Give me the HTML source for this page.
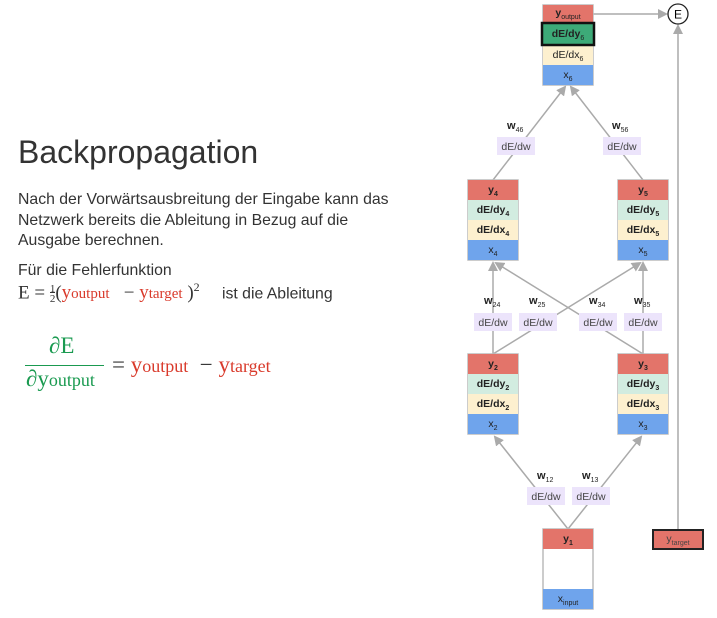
<!DOCTYPE html>
<html><head><meta charset="utf-8"><style>
body{margin:0;width:717px;height:618px;background:#fff;overflow:hidden;position:relative;font-family:"Liberation Sans",sans-serif;color:#222}
.t{position:absolute;white-space:nowrap}
.r{color:#d93a2b}.g{color:#1a9a50}
.ser{font-family:"Liberation Serif",serif}
</style></head><body>
<div class="t" style="left:18px;top:134px;font-size:32px;color:#333">Backpropagation</div>
<div class="t" style="left:18px;top:190px;font-size:15.8px;line-height:20.5px;color:#333">Nach der Vorwärtsausbreitung der Eingabe kann das<br>Netzwerk bereits die Ableitung in Bezug auf die<br>Ausgabe berechnen.</div>
<div class="t" style="left:18px;top:262px;font-size:15.8px;color:#333">Für die Fehlerfunktion</div>
<div class="t ser" style="left:18px;top:280px;font-size:19px;color:#333">E = <span style="display:inline-block;font-size:11px;vertical-align:middle;text-align:center;line-height:10px">1<br><span style="border-top:1px solid #333">2</span></span>(<span class="r">y<span style="font-size:15px">output</span></span> &nbsp;&nbsp;− <span class="r">y<span style="font-size:15px">target</span></span> )<sup style="font-size:12px">2</sup> <span style="font-family:'Liberation Sans',sans-serif;font-size:15.8px">&nbsp;&nbsp;&nbsp;&nbsp;ist die Ableitung</span></div>
<div class="t ser g" style="left:49px;top:333px;font-size:23px">∂E</div>
<div style="position:absolute;left:25px;top:365px;width:79px;border-top:1px solid #1a9a50"></div>
<div class="t ser g" style="left:26px;top:366px;font-size:23px">∂y<span style="font-size:18px">output</span></div>
<div class="t ser" style="left:112px;top:352px;font-size:23px;color:#333">= <span class="r">y<span style="font-size:18px">output</span></span> &nbsp;− <span class="r">y<span style="font-size:18px">target</span></span></div>

<svg width="717" height="618" style="position:absolute;left:0;top:0" font-family="Liberation Sans, sans-serif">
<defs><marker id="a" markerWidth="10" markerHeight="10" refX="8" refY="5" orient="auto" markerUnits="userSpaceOnUse"><path d="M0,0 L10,5 L0,10 z" fill="#aaa"/></marker></defs>
<g stroke="#aaa" stroke-width="1.5" fill="none">
<line x1="593" y1="14" x2="666" y2="14" marker-end="url(#a)"/>
<line x1="678" y1="529" x2="678" y2="26" marker-end="url(#a)"/>
<line x1="493" y1="180" x2="565" y2="87" marker-end="url(#a)"/>
<line x1="643" y1="180" x2="571" y2="87" marker-end="url(#a)"/>
<line x1="493" y1="354" x2="493" y2="263" marker-end="url(#a)"/>
<line x1="493" y1="354" x2="640" y2="263" marker-end="url(#a)"/>
<line x1="643" y1="354" x2="496" y2="263" marker-end="url(#a)"/>
<line x1="643" y1="354" x2="643" y2="263" marker-end="url(#a)"/>
<line x1="568" y1="529" x2="495" y2="437" marker-end="url(#a)"/>
<line x1="568" y1="529" x2="641" y2="437" marker-end="url(#a)"/>
</g>
<circle cx="678" cy="14" r="10" fill="#fff" stroke="#222" stroke-width="1.3"/>
<text x="678" y="18.5" font-size="12" text-anchor="middle">E</text>
<g font-size="10.5" text-anchor="middle" fill="#444">
<rect x="497" y="137" width="38" height="18" fill="#ece4fb"/><text x="516" y="150">dE/dw</text>
<rect x="603" y="137" width="38" height="18" fill="#ece4fb"/><text x="622" y="150">dE/dw</text>
<rect x="474" y="313" width="38" height="18" fill="#ece4fb"/><text x="493" y="326">dE/dw</text>
<rect x="519" y="313" width="38" height="18" fill="#ece4fb"/><text x="538" y="326">dE/dw</text>
<rect x="579" y="313" width="38" height="18" fill="#ece4fb"/><text x="598" y="326">dE/dw</text>
<rect x="624" y="313" width="38" height="18" fill="#ece4fb"/><text x="643" y="326">dE/dw</text>
<rect x="527" y="487" width="38" height="18" fill="#ece4fb"/><text x="546" y="500">dE/dw</text>
<rect x="572" y="487" width="38" height="18" fill="#ece4fb"/><text x="591" y="500">dE/dw</text>
</g>
<g font-size="11" font-weight="bold" fill="#222">
<text x="507" y="129">w<tspan font-size="7" dy="3" font-weight="normal">46</tspan></text>
<text x="612" y="129">w<tspan font-size="7" dy="3" font-weight="normal">56</tspan></text>
<text x="484" y="304">w<tspan font-size="7" dy="3" font-weight="normal">24</tspan></text>
<text x="529" y="304">w<tspan font-size="7" dy="3" font-weight="normal">25</tspan></text>
<text x="589" y="304">w<tspan font-size="7" dy="3" font-weight="normal">34</tspan></text>
<text x="634" y="304">w<tspan font-size="7" dy="3" font-weight="normal">35</tspan></text>
<text x="537" y="479">w<tspan font-size="7" dy="3" font-weight="normal">12</tspan></text>
<text x="582" y="479">w<tspan font-size="7" dy="3" font-weight="normal">13</tspan></text>
</g>
<g font-size="10.5" text-anchor="middle" fill="#222">
<rect x="543" y="5" width="50" height="80" fill="#fff" stroke="#bbb" stroke-width="1.5"/>
<rect x="543" y="5" width="50" height="18" fill="#e3746a"/><text x="568" y="16" font-weight="bold">y<tspan font-size="7" dy="3" font-weight="normal">output</tspan></text>
<rect x="543" y="45" width="50" height="20" fill="#fdf0cf"/><text x="568" y="58">dE/dx<tspan font-size="7" dy="3">6</tspan></text>
<rect x="543" y="65" width="50" height="20" fill="#6fa4ec"/><text x="568" y="78">x<tspan font-size="7" dy="3">6</tspan></text>
<rect x="542" y="23" width="52" height="22" fill="#3daa78" stroke="#111" stroke-width="2.5"/><text x="568" y="37" font-weight="bold">dE/dy<tspan font-size="7" dy="3" font-weight="normal">6</tspan></text>
</g>
<g font-size="10.5" text-anchor="middle" fill="#222">
<g transform="translate(468,180)">
<rect width="50" height="80" fill="none" stroke="#bbb" stroke-width="1.5"/>
<rect width="50" height="20" fill="#e3746a"/><text x="25" y="13" font-weight="bold">y<tspan font-size="7" dy="3">4</tspan></text>
<rect y="20" width="50" height="20" fill="#d2ece0"/><text x="25" y="33" font-weight="bold">dE/dy<tspan font-size="7" dy="3">4</tspan></text>
<rect y="40" width="50" height="20" fill="#fdf0cf"/><text x="25" y="53" font-weight="bold">dE/dx<tspan font-size="7" dy="3">4</tspan></text>
<rect y="60" width="50" height="20" fill="#6fa4ec"/><text x="25" y="73">x<tspan font-size="7" dy="3">4</tspan></text>
</g>
<g transform="translate(618,180)">
<rect width="50" height="80" fill="none" stroke="#bbb" stroke-width="1.5"/>
<rect width="50" height="20" fill="#e3746a"/><text x="25" y="13" font-weight="bold">y<tspan font-size="7" dy="3">5</tspan></text>
<rect y="20" width="50" height="20" fill="#d2ece0"/><text x="25" y="33" font-weight="bold">dE/dy<tspan font-size="7" dy="3">5</tspan></text>
<rect y="40" width="50" height="20" fill="#fdf0cf"/><text x="25" y="53" font-weight="bold">dE/dx<tspan font-size="7" dy="3">5</tspan></text>
<rect y="60" width="50" height="20" fill="#6fa4ec"/><text x="25" y="73">x<tspan font-size="7" dy="3">5</tspan></text>
</g>
<g transform="translate(468,354)">
<rect width="50" height="80" fill="none" stroke="#bbb" stroke-width="1.5"/>
<rect width="50" height="20" fill="#e3746a"/><text x="25" y="13" font-weight="bold">y<tspan font-size="7" dy="3">2</tspan></text>
<rect y="20" width="50" height="20" fill="#d2ece0"/><text x="25" y="33" font-weight="bold">dE/dy<tspan font-size="7" dy="3">2</tspan></text>
<rect y="40" width="50" height="20" fill="#fdf0cf"/><text x="25" y="53" font-weight="bold">dE/dx<tspan font-size="7" dy="3">2</tspan></text>
<rect y="60" width="50" height="20" fill="#6fa4ec"/><text x="25" y="73">x<tspan font-size="7" dy="3">2</tspan></text>
</g>
<g transform="translate(618,354)">
<rect width="50" height="80" fill="none" stroke="#bbb" stroke-width="1.5"/>
<rect width="50" height="20" fill="#e3746a"/><text x="25" y="13" font-weight="bold">y<tspan font-size="7" dy="3">3</tspan></text>
<rect y="20" width="50" height="20" fill="#d2ece0"/><text x="25" y="33" font-weight="bold">dE/dy<tspan font-size="7" dy="3">3</tspan></text>
<rect y="40" width="50" height="20" fill="#fdf0cf"/><text x="25" y="53" font-weight="bold">dE/dx<tspan font-size="7" dy="3">3</tspan></text>
<rect y="60" width="50" height="20" fill="#6fa4ec"/><text x="25" y="73">x<tspan font-size="7" dy="3">3</tspan></text>
</g>
<g transform="translate(543,529)">
<rect width="50" height="80" fill="#fff" stroke="#bbb" stroke-width="1.5"/>
<rect width="50" height="20" fill="#e3746a"/><text x="25" y="13" font-weight="bold">y<tspan font-size="7" dy="3">1</tspan></text>
<rect y="60" width="50" height="20" fill="#6fa4ec"/><text x="25" y="73">x<tspan font-size="7" dy="3">input</tspan></text>
</g>
<rect x="653" y="530" width="50" height="19" fill="#e3746a" stroke="#222" stroke-width="2"/>
<text x="678" y="542" fill="#444">y<tspan font-size="7" dy="3">target</tspan></text>
</g>
</svg>
</body></html>
